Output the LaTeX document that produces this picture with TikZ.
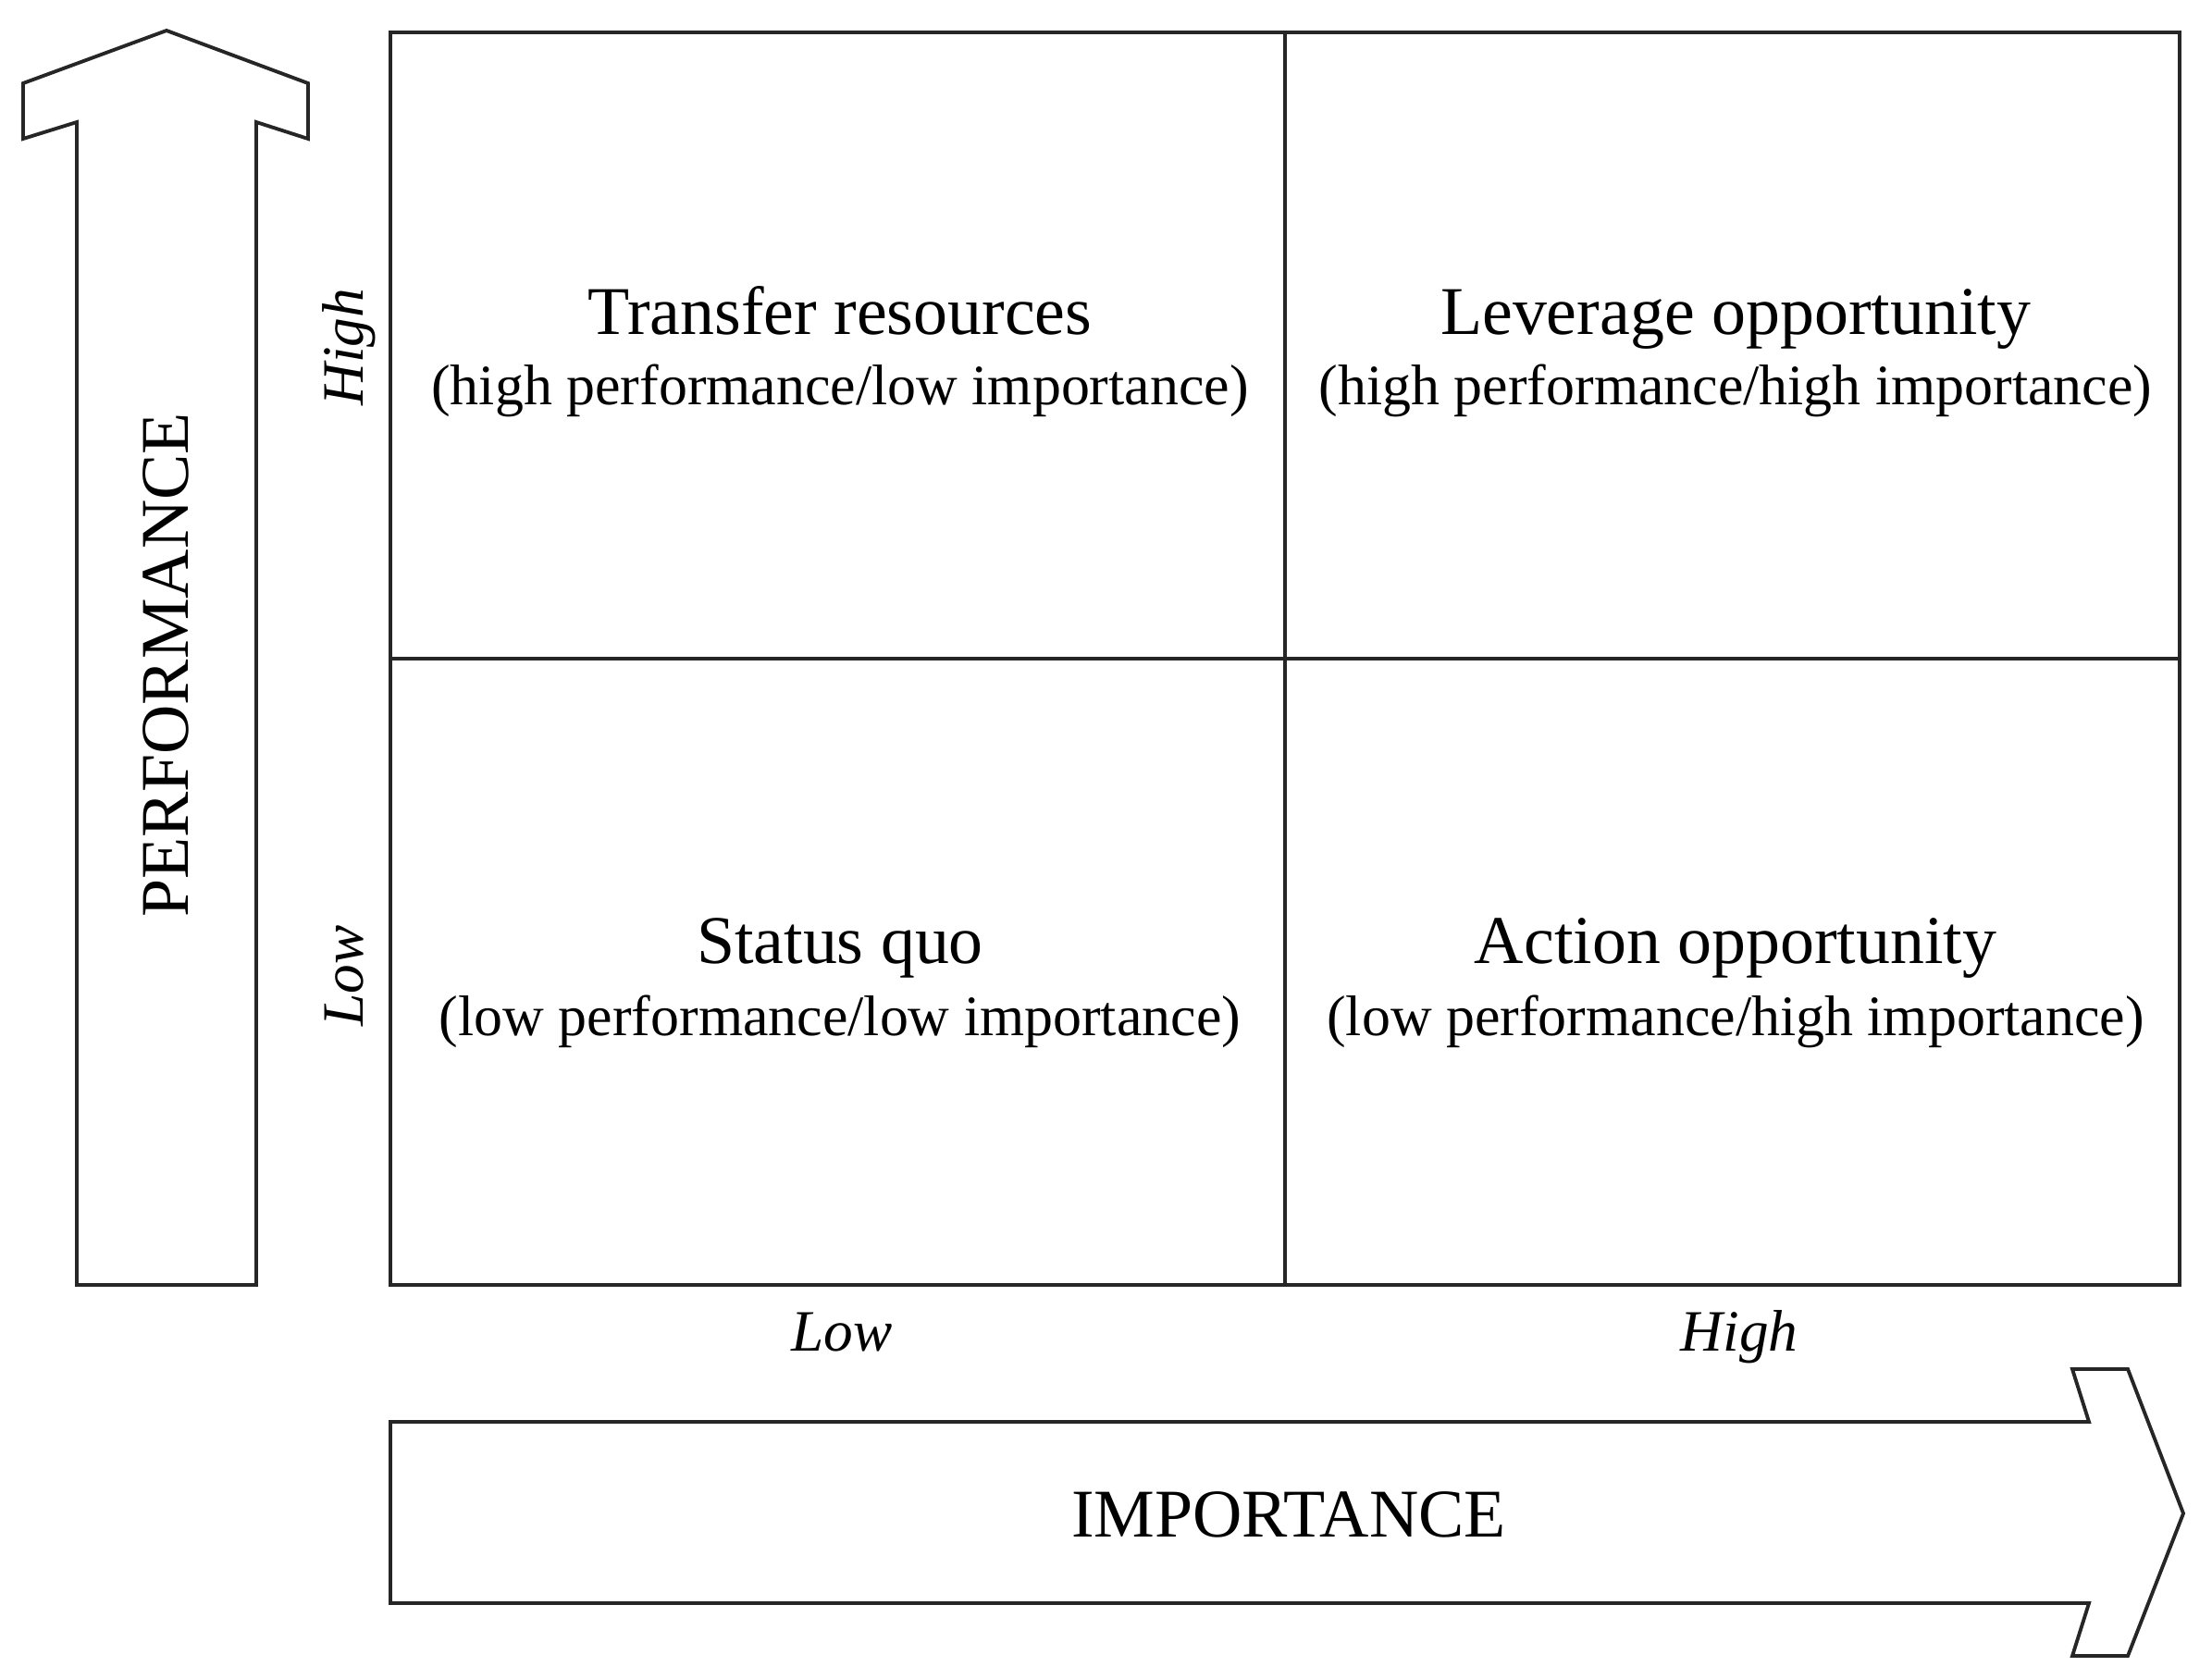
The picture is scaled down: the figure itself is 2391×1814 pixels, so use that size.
\documentclass[tikz,border=0pt]{standalone}
\usepackage{fontspec}
\setmainfont{Liberation Serif}
\begin{document}
\begin{tikzpicture}[x=0.01cm,y=-0.01cm,
  frame/.style={draw=black!85,line width=1.3pt},
  bigarrow/.style={draw=black!85,line width=1.1pt,line join=miter,fill=white},
  title/.style={font=\fontsize{21}{25}\selectfont,anchor=base},
  sub/.style={font=\fontsize{17.6}{21}\selectfont,anchor=base},
  axislbl/.style={font=\fontsize{18}{21}\itshape\selectfont,anchor=base},
  axisname/.style={font=\fontsize{21}{25}\selectfont,anchor=center}]
\useasboundingbox (0,0) rectangle (2391,1814);
% grid
\draw[frame] (422,35) rectangle (2356,1389);
\draw[frame] (1389,35) -- (1389,1389);
\draw[frame] (422,712) -- (2356,712);
% up arrow
\draw[bigarrow] (83,1389) -- (83,132) -- (25,150) -- (25,90) -- (180,33) -- (333,90) -- (333,150) -- (277,132) -- (277,1389) -- cycle;
% right arrow
\draw[bigarrow] (422,1537) -- (2258,1537) -- (2240,1480) -- (2300,1480) -- (2360,1636) -- (2300,1790) -- (2240,1790) -- (2258,1733) -- (422,1733) -- cycle;
% quadrant texts
\node[title] (tr) at (908,361) {Transfer resources};
\node[sub] (trs) at (908,437) {(high performance/low importance)};
\node[title] (lo) at (1876,361) {Leverage opportunity};
\node[sub] (los) at (1876,437) {(high performance/high importance)};
\node[title] (sq) at (908,1041) {Status quo};
\node[sub] (sqs) at (908,1119) {(low performance/low importance)};
\node[title] (ao) at (1876,1041) {Action opportunity};
\node[sub] (aos) at (1876,1119) {(low performance/high importance)};
% axis labels
\node[axislbl,rotate=90] (phigh) at (392,375) {High};
\node[axislbl,rotate=90] (plow) at (392,1055) {Low};
\node[axislbl] (ilow) at (910,1460) {Low};
\node[axislbl] (ihigh) at (1880,1460) {High};
\node[axisname,rotate=90] (perf) at (179,719) {PERFORMANCE};
\node[axisname] (imp) at (1393,1637) {IMPORTANCE};
\end{tikzpicture}
\end{document}
